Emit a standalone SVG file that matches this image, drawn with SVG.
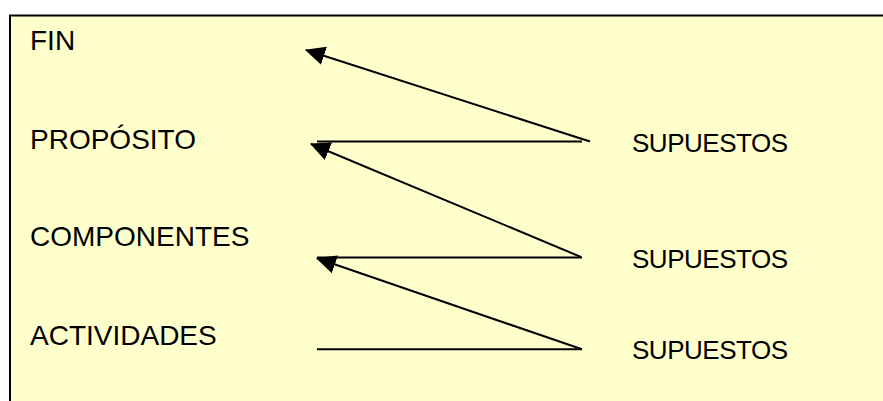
<svg xmlns="http://www.w3.org/2000/svg" width="883" height="401" viewBox="0 0 883 401">
  <style>
    .lbl { font-family: "Liberation Sans", Arial, sans-serif; font-size: 28px; fill: #000; }
    .sup { font-family: "Liberation Sans", Arial, sans-serif; font-size: 26px; fill: #000; }
    .con { stroke: #000; stroke-width: 2; fill: none; }
  </style>
  <defs>
    <marker id="ah" markerUnits="userSpaceOnUse" markerWidth="20" markerHeight="20" viewBox="0 -9 18 18" refX="17" refY="0" orient="auto">
      <path d="M0,-8.5 L18,0 L0,8.5 z" fill="#000"/>
    </marker>
  </defs>
  <rect x="0" y="0" width="883" height="401" fill="#ffffff"/>
  <g id="frame">
    <rect x="10" y="15.5" width="900" height="420" fill="#ffffcc" stroke="#000" stroke-width="2"/>
  </g>
  <g id="fin"><text class="lbl" x="30" y="50">FIN</text></g>
  <g id="proposito"><text class="lbl" x="30" y="149">PROPÓSITO</text></g>
  <g id="componentes"><text class="lbl" x="30" y="246">COMPONENTES</text></g>
  <g id="actividades"><text class="lbl" x="30" y="345">ACTIVIDADES</text></g>
  <g id="supuestos1"><text class="sup" x="632" y="152" textLength="156">SUPUESTOS</text></g>
  <g id="supuestos2"><text class="sup" x="632" y="268" textLength="156">SUPUESTOS</text></g>
  <g id="supuestos3"><text class="sup" x="632" y="359" textLength="156">SUPUESTOS</text></g>
  <g id="connectors">
    <line class="con" x1="590" y1="141.5" x2="306" y2="50" marker-end="url(#ah)"/>
    <line class="con" x1="582" y1="141.5" x2="317" y2="141.5"/>
    <line class="con" x1="581" y1="257" x2="311" y2="144" marker-end="url(#ah)"/>
    <line class="con" x1="582" y1="257.5" x2="317" y2="257.5"/>
    <line class="con" x1="582" y1="349.3" x2="317" y2="258.3" marker-end="url(#ah)"/>
    <line class="con" x1="582" y1="349.3" x2="317" y2="349.3"/>
  </g>
</svg>
